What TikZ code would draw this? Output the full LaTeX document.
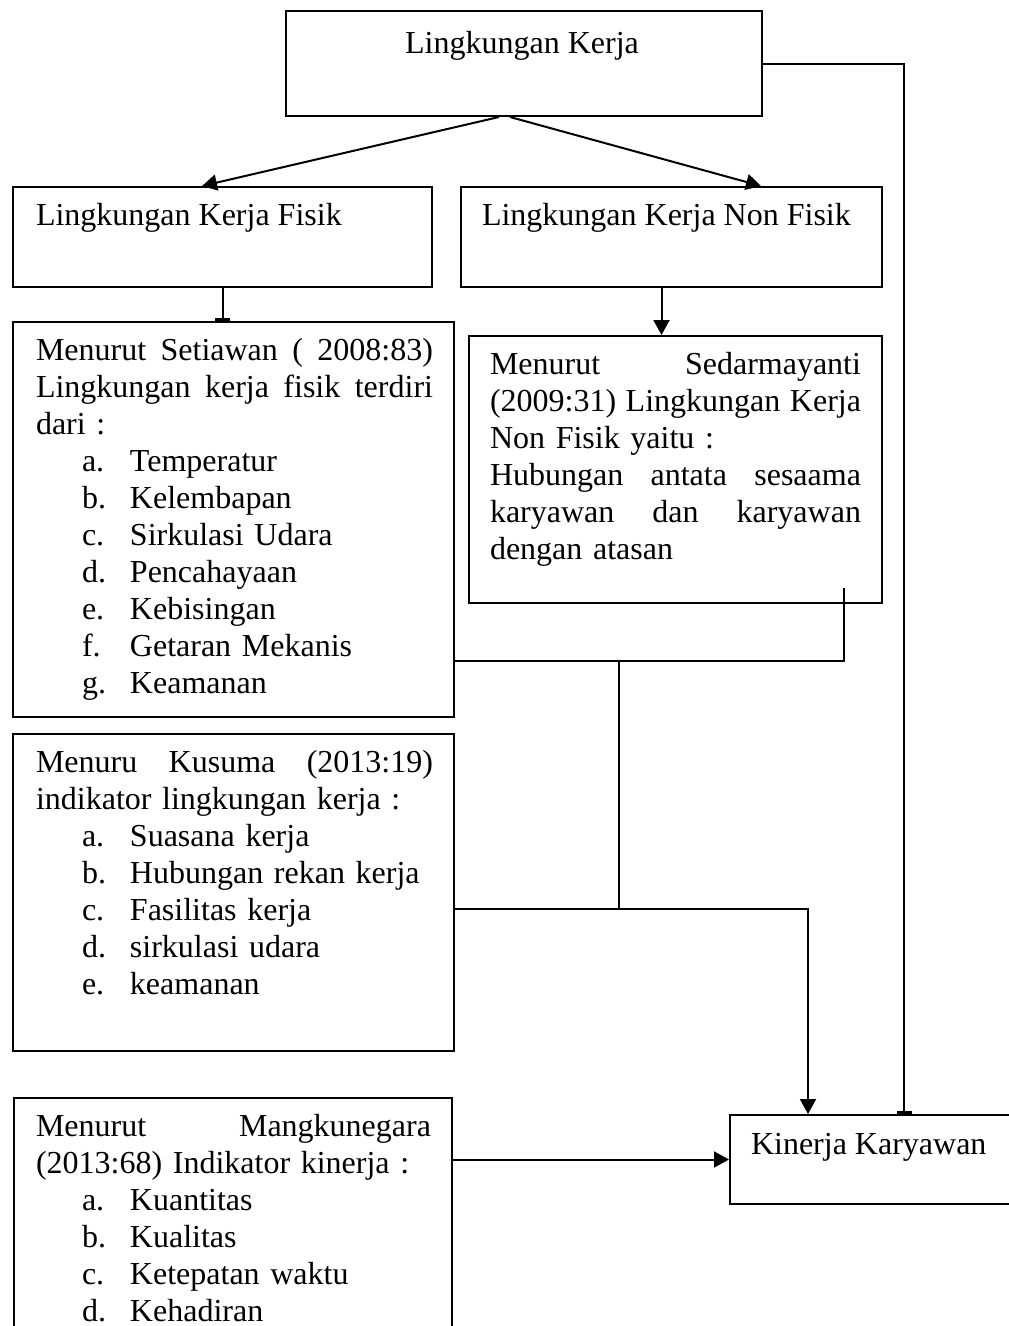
\documentclass[tikz,border=0pt]{standalone}
\usepackage{fontspec}
\setmainfont{Liberation Serif}
\usetikzlibrary{arrows.meta,calc}
\newcommand\lstitem[2]{\hspace*{46pt}\makebox[48pt][l]{#1}#2}
\newcommand\jline[2]{\leavevmode\hbox to #1{#2}}
\newcommand\js{\hspace{0.25em plus 1fill}}
\begin{document}
\begin{tikzpicture}[x=1pt,y=-1pt,line width=2pt,
  box/.style={draw, rectangle, inner sep=0pt, anchor=north west},
  txt/.style={inner sep=0pt, anchor=base west, font=\fontsize{32}{37}\selectfont, align=left},
  arr/.style={-{Triangle[length=15pt,width=16pt]}},
  tbar/.style={-{Rectangle[length=3pt,width=15pt]}}]
\useasboundingbox[fill=white] (0,0) rectangle (1009,1326);

% boxes
\node[box, minimum width=476pt, minimum height=105pt] (lk) at (285,10) {};
\node[box, minimum width=419pt, minimum height=100pt] (fisik) at (12,186) {};
\node[box, minimum width=421pt, minimum height=100pt] (nonfisik) at (460,186) {};
\node[box, minimum width=441pt, minimum height=395pt] (setiawan) at (12,321) {};
\node[box, minimum width=413pt, minimum height=267pt] (sedar) at (468,335) {};
\node[box, minimum width=441pt, minimum height=317pt] (kusuma) at (12,733) {};
\node[box, minimum width=438pt, minimum height=260pt] (mk) at (13,1097) {};
\node[box, minimum width=300pt, minimum height=89pt] (kinerja) at (729,1114) {};

% texts
\node[txt, anchor=base] (t1) at (522,53) {Lingkungan Kerja};
\node[txt] (t2) at (35,225) {Lingkungan Kerja Fisik};
\node[txt] (t3) at (481,225) {Lingkungan Kerja Non Fisik};
\node[txt, text width=397pt] (t4) at (35,360) {%
\jline{397pt}{Menurut\js Setiawan\js (\js 2008:83)}\\
\jline{397pt}{Lingkungan\js kerja\js fisik\js terdiri}\\
dari :\\
\lstitem{a.}{Temperatur}\\
\lstitem{b.}{Kelembapan}\\
\lstitem{c.}{Sirkulasi Udara}\\
\lstitem{d.}{Pencahayaan}\\
\lstitem{e.}{Kebisingan}\\
\lstitem{f.}{Getaran Mekanis}\\
\lstitem{g.}{Keamanan}};
\node[txt, text width=371pt] (t5) at (489,374) {%
\jline{371pt}{Menurut\js Sedarmayanti}\\
\jline{371pt}{(2009:31)\js Lingkungan\js Kerja}\\
Non Fisik yaitu :\\
\jline{371pt}{Hubungan\js antata\js sesaama}\\
\jline{371pt}{karyawan\js dan\js karyawan}\\
dengan atasan};
\node[txt, text width=397pt] (t6) at (35,772) {%
\jline{397pt}{Menuru\js Kusuma\js (2013:19)}\\
indikator lingkungan kerja :\\
\lstitem{a.}{Suasana kerja}\\
\lstitem{b.}{Hubungan rekan kerja}\\
\lstitem{c.}{Fasilitas kerja}\\
\lstitem{d.}{sirkulasi udara}\\
\lstitem{e.}{keamanan}};
\node[txt, text width=395pt] (t7) at (35,1136) {%
\jline{395pt}{Menurut\js Mangkunegara}\\
(2013:68) Indikator kinerja :\\
\lstitem{a.}{Kuantitas}\\
\lstitem{b.}{Kualitas}\\
\lstitem{c.}{Ketepatan waktu}\\
\lstitem{d.}{Kehadiran}};
\node[txt] (t8) at (750,1154) {Kinerja Karyawan};

% connectors
\draw[arr] ([xshift=-25pt]lk.south) -- ([xshift=-20.5pt]fisik.north);
\draw[arr] ([xshift=-14pt]lk.south) -- ([xshift=89.5pt]nonfisik.north);
\draw[tbar] (fisik.south) -- (fisik.south |- setiawan.north);
\draw[arr] ([xshift=-10pt]nonfisik.south) -- ([xshift=-10pt]nonfisik.south |- sedar.north);
\coordinate (c1) at (844,588);
\coordinate (j1) at (619,661);
\coordinate (j2) at (619,909);
\draw (c1) |- (setiawan.east |- j1);
\draw (j1) -- (j2);
\draw[arr] (kusuma.east |- j2) -| ([xshift=79pt]kinerja.north west);
\draw[tbar] (lk.east) -| ([xshift=175pt]kinerja.north west);
\draw[arr] (mk.east |- kinerja.west) -- (kinerja.west);
\end{tikzpicture}
\end{document}
